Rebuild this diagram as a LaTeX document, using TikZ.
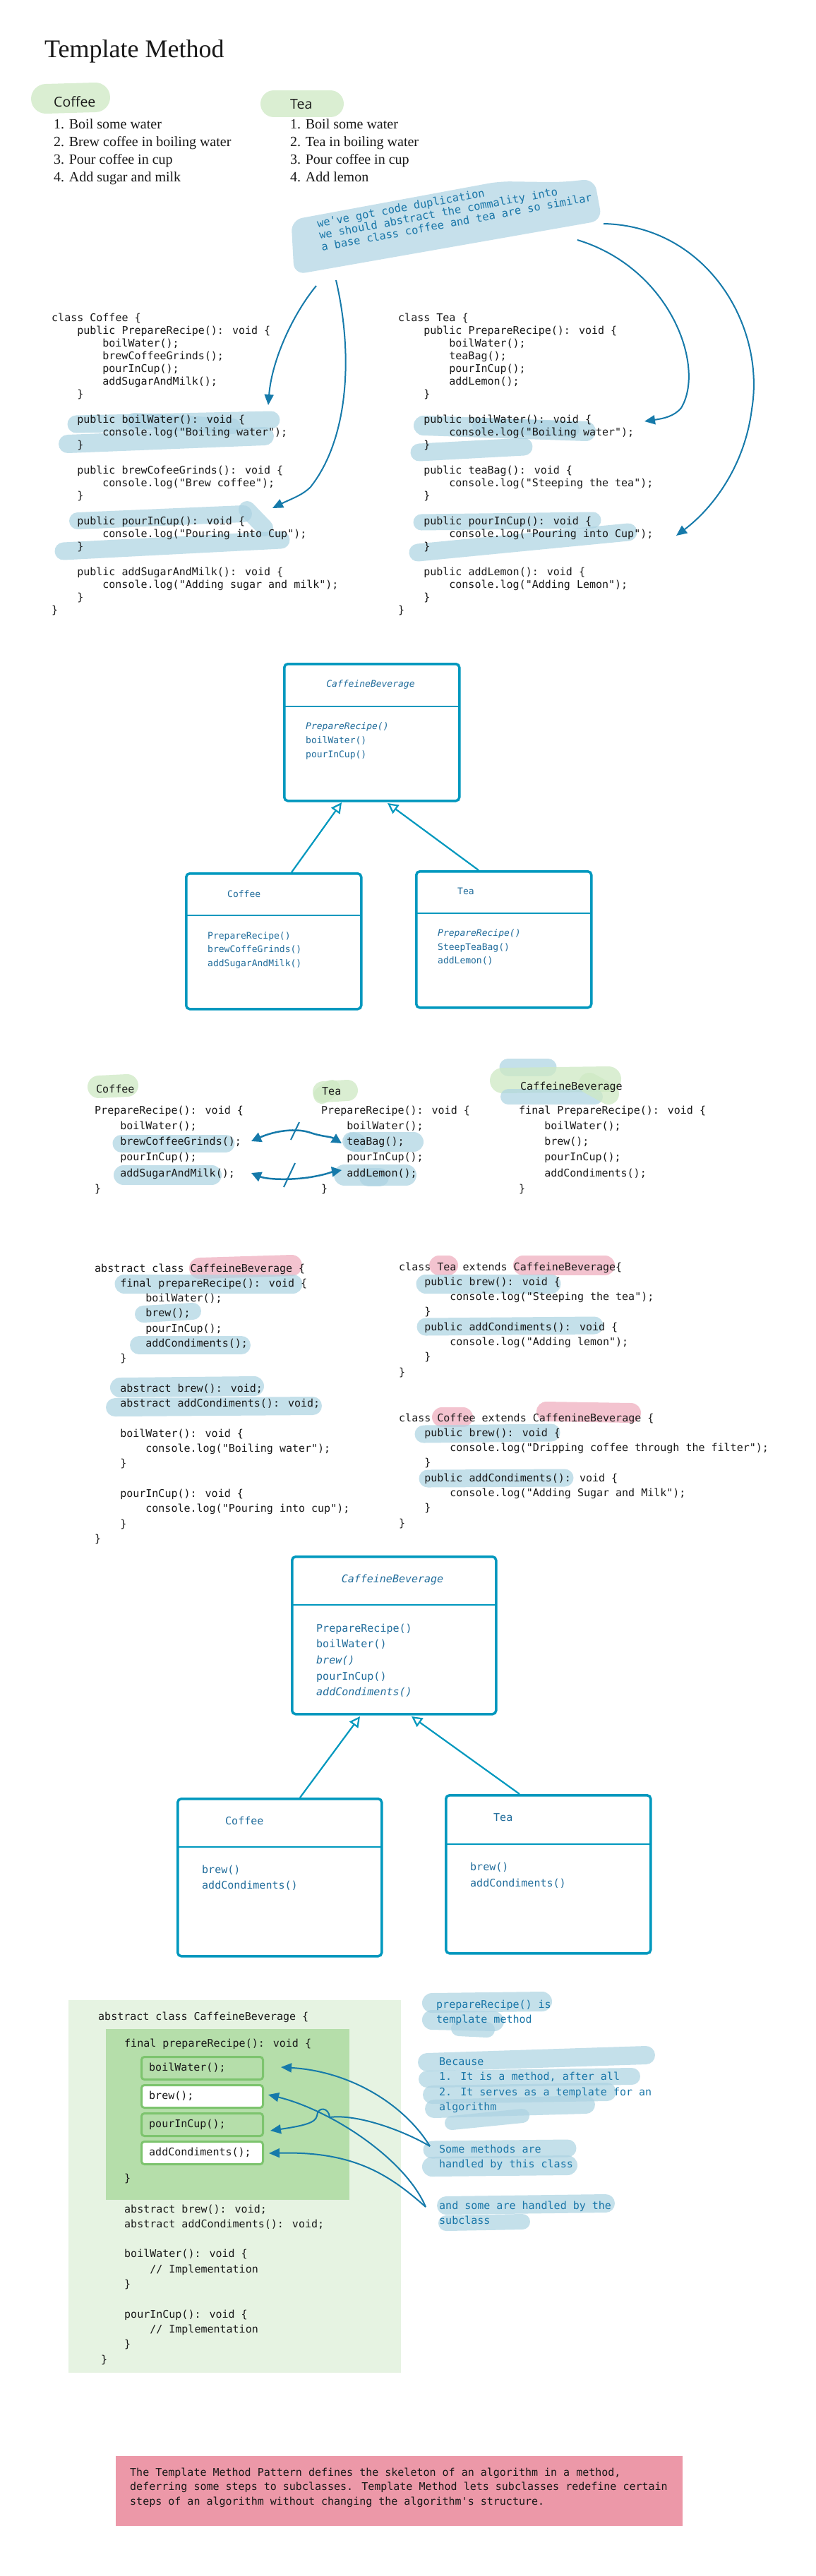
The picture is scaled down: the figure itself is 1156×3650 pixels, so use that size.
\documentclass[tikz,border=0pt]{standalone}
\usepackage{fontspec}
\setmainfont{Liberation Serif}
\newfontfamily\codefont{DejaVu Sans Mono}
\newfontfamily\osfont{Open Sans}
\usetikzlibrary{arrows.meta}
\definecolor{hlblue}{RGB}{172,211,226}
\definecolor{blobblue}{RGB}{198,224,235}
\definecolor{hlpink}{RGB}{240,176,192}
\definecolor{hlgreen}{RGB}{206,233,196}
\definecolor{notetext}{RGB}{25,118,168}
\definecolor{arrowblue}{RGB}{22,122,170}
\definecolor{umlblue}{RGB}{0,152,190}
\definecolor{umltext}{RGB}{32,108,155}
\definecolor{outergreen}{RGB}{230,243,226}
\definecolor{innergreen}{RGB}{181,222,170}
\definecolor{boxgreen}{RGB}{125,196,110}
\definecolor{footpink}{RGB}{236,152,168}
\definecolor{codeink}{RGB}{25,25,25}
\newcommand\indA{\hspace*{36.1pt}}
\newcommand\indB{\hspace*{72.2pt}}
\newcommand\codelines[6]{\foreach \myline [count=\myidx from 0] in {#6}{\node[#1] (#2-\myidx) at (#3,{#4+#5*\myidx}) {\myline};}}
\begin{document}
\begin{tikzpicture}[x=1pt,y=-1pt,
  code/.style={font=\codefont\fontsize{15}{18}\selectfont, text=codeink, inner sep=0pt, anchor=base west},
  ann/.style={font=\codefont\fontsize{15}{18}\selectfont, text=notetext, inner sep=0pt, anchor=base west},
  umlt/.style={font=\codefont\fontsize{13}{16}\selectfont, text=umltext, inner sep=0pt, anchor=base west},
  umltb/.style={font=\codefont\fontsize{15}{18}\selectfont, text=umltext, inner sep=0pt, anchor=base west},
  lst/.style={font=\fontsize{20}{25}\selectfont, text=codeink, inner sep=0pt, anchor=base west},
  umlbox/.style={draw=umlblue, line width=3.5pt, rounded corners=5pt, inner sep=0pt, anchor=north west},
  umldiv/.style={draw=umlblue, line width=1.8pt},
  inh/.style={draw=umlblue, line width=2.2pt, -{Triangle[open, length=15pt, width=15pt]}},
  arr/.style={draw=arrowblue, line width=2pt, -{Triangle[length=15pt,width=13pt]}},
  darr/.style={draw=arrowblue, line width=2.5pt, {Triangle[length=14pt,width=14pt]}-{Triangle[length=14pt,width=14pt]}},
  slash/.style={draw=arrowblue, line width=2pt},
  hlb/.style={draw=hlblue, draw opacity=0.7, line width=#1pt, line cap=round},
  hlp/.style={draw=hlpink, draw opacity=0.75, line width=#1pt, line cap=round},
  hlg/.style={draw=hlgreen, draw opacity=0.75, line width=#1pt, line cap=round},
  gbox/.style={draw=boxgreen, line width=3pt, rounded corners=4pt, minimum width=172pt, minimum height=32pt, anchor=north west, inner sep=0pt}
]
\useasboundingbox (0,0) rectangle (1156,3650);
\fill[white] (0,0) rectangle (1156,3650);

% ---------- title and lists ----------
\node[font=\fontsize{36}{40}\selectfont, anchor=base west, inner sep=0pt, text=codeink] (title) at (63,82) {Template Method};
\draw[hlg=42] (65,140) -- (135,138);
\draw[hlg=38] (388,147) -- (468,147);
\node[font=\osfont\fontsize{19.5}{22}\selectfont, anchor=base west, inner sep=0pt, text=codeink] (lblcoffee) at (76,152) {Coffee};
\node[font=\osfont\fontsize{19.5}{22}\selectfont, anchor=base west, inner sep=0pt, text=codeink] (lbltea) at (411,155) {Tea};
\codelines{lst}{cl}{76}{183}{25}{{1. Boil some water},{2. Brew coffee in boiling water},{3. Pour coffee in cup},{4. Add sugar and milk}}
\codelines{lst}{tl}{411}{183}{25}{{1. Boil some water},{2. Tea in boiling water},{3. Pour coffee in cup},{4. Add lemon}}

% ---------- note blob ----------
\begin{scope}[shift={(450,322)}, rotate=10.5]
  \fill[blobblue, rounded corners=16pt] (-35,-17) -- (265,-17) -- (350,0) -- (398,4) -- (398,64) -- (-45,60) -- cycle;
  \node[font=\codefont\fontsize{15.4}{17}\selectfont, text=notetext, inner sep=0pt, anchor=north west, align=left, transform shape] (note) at (0,-11.7) {we've got code duplication\\we should abstract the commality into\\a base class coffee and tea are so similar};
\end{scope}

% ---------- section 1 highlights ----------
\draw[hlb=25] (108,601) -- (384,595);
\draw[hlb=22] (190,596) -- (330,604);
\draw[hlb=26] (96,629) -- (375,618);
\draw[hlb=24] (110,738) -- (345,728);
\draw[hlb=24] (350,722) -- (375,748);
\draw[hlb=25] (90,781) -- (398,765);
\draw[hlb=28] (600,603) -- (830,611);
\draw[hlb=22] (680,603) -- (810,608);
\draw[hlb=25] (594,641) -- (742,633);
\draw[hlb=23] (597,740) -- (840,737);
\draw[hlb=25] (592,783) -- (890,754);

% ---------- section 1 code ----------
\codelines{code}{c1}{73}{455}{18}{{class Coffee \{},{\indA public PrepareRecipe(): void \{},{\indB boilWater();},{\indB brewCoffeeGrinds();},{\indB pourInCup();},{\indB addSugarAndMilk();},{\indA \}},{\relax},{\indA public boilWater(): void \{},{\indB console.log("Boiling water");},{\indA \}},{\relax},{\indA public brewCofeeGrinds(): void \{},{\indB console.log("Brew coffee");},{\indA \}},{\relax},{\indA public pourInCup(): void \{},{\indB console.log("Pouring into Cup");},{\indA \}},{\relax},{\indA public addSugarAndMilk(): void \{},{\indB console.log("Adding sugar and milk");},{\indA \}},{\}}}
\codelines{code}{t1}{564}{455}{18}{{class Tea \{},{\indA public PrepareRecipe(): void \{},{\indB boilWater();},{\indB teaBag();},{\indB pourInCup();},{\indB addLemon();},{\indA \}},{\relax},{\indA public boilWater(): void \{},{\indB console.log("Boiling water");},{\indA \}},{\relax},{\indA public teaBag(): void \{},{\indB console.log("Steeping the tea");},{\indA \}},{\relax},{\indA public pourInCup(): void \{},{\indB console.log("Pouring into Cup");},{\indA \}},{\relax},{\indA public addLemon(): void \{},{\indB console.log("Adding Lemon");},{\indA \}},{\}}}

% ---------- section 1 arrows ----------
\coordinate (nA) at (448,405); \coordinate (tA) at (380,574);
\coordinate (nB) at (476,397); \coordinate (tB) at (386,720);
\coordinate (nC) at (818,340); \coordinate (tC) at (913,597);
\coordinate (nD) at (855,317); \coordinate (tD) at (958,759);
\draw[arr] (nA) .. controls (415,445) and (385,510) .. (tA);
\draw[arr] (nB) .. controls (500,500) and (495,620) .. (440,690) .. controls (428,702) and (412,707) .. (tB);
\draw[arr] (nC) .. controls (950,380) and (1000,520) .. (965,578) .. controls (955,590) and (940,593) .. (tC);
\draw[arr] (nD) .. controls (1000,320) and (1085,460) .. (1065,580) .. controls (1055,660) and (1010,720) .. (tD);

% ---------- UML 1 ----------
\node[umlbox, minimum width=248pt, minimum height=194pt] (cb1) at (401,939) {};
\draw[umldiv] (401,1001) -- (649,1001);
\node[umlt, anchor=base, font=\codefont\itshape\fontsize{13}{16}\selectfont] (cb1t) at (525,973) {CaffeineBeverage};
\node[umlt] (cb1m1) at (433,1033) {\itshape PrepareRecipe()};
\node[umlt] (cb1m2) at (433,1053) {boilWater()};
\node[umlt] (cb1m3) at (433,1073) {pourInCup()};

\node[umlbox, minimum width=248pt, minimum height=192pt] (co1) at (262,1236) {};
\draw[umldiv] (262,1297) -- (510,1297);
\node[umlt] (co1t) at (322,1271) {Coffee};
\node[umlt] (co1m1) at (294,1330) {PrepareRecipe()};
\node[umlt] (co1m2) at (294,1349) {brewCoffeGrinds()};
\node[umlt] (co1m3) at (294,1369) {addSugarAndMilk()};

\node[umlbox, minimum width=248pt, minimum height=193pt] (te1) at (588,1233) {};
\draw[umldiv] (588,1294) -- (836,1294);
\node[umlt] (te1t) at (648,1267) {Tea};
\node[umlt] (te1m1) at (620,1326) {\itshape PrepareRecipe()};
\node[umlt] (te1m2) at (620,1346) {SteepTeaBag()};
\node[umlt] (te1m3) at (620,1365) {addLemon()};

\coordinate (u1a) at (413,1236); \coordinate (u1b) at (484,1137);
\coordinate (u1c) at (678,1233); \coordinate (u1d) at (549,1138);
\draw[inh] (u1a) -- (u1b);
\draw[inh] (u1c) -- (u1d);

% ---------- section 3 ----------
\draw[hlg=32] (140,1540) -- (180,1538);
\draw[hlg=30] (458,1547) -- (492,1545);
\draw[hlg=24] (456,1552) -- (470,1542);
\draw[hlb=25] (720,1512) -- (776,1512);
\draw[hlg=36] (712,1531) -- (862,1529);
\draw[hlb=22] (720,1554) -- (843,1554);
\draw[hlg=30] (835,1535) -- (862,1550);
\draw[hlb=25] (172,1620) -- (320,1620);
\draw[hlb=28] (175,1665) -- (300,1665);
\draw[hlb=28] (502,1618) -- (586,1618);
\draw[hlb=26] (498,1617) -- (506,1619);
\draw[hlb=30] (488,1665) -- (575,1665);
\draw[hlb=26] (522,1668) -- (538,1668);
\node[code] (s3coffee) at (136,1548) {Coffee};
\node[code] (s3tea) at (456,1551) {Tea};
\node[code] (s3cb) at (737,1544) {CaffeineBeverage};
\codelines{code}{s3c}{134}{1578}{22.3}{{PrepareRecipe(): void \{},{\indA boilWater();},{\indA brewCoffeeGrinds();},{\indA pourInCup();},{\indA addSugarAndMilk();},{\}}}
\codelines{code}{s3t}{455}{1578}{22.3}{{PrepareRecipe(): void \{},{\indA boilWater();},{\indA teaBag();},{\indA pourInCup();},{\indA addLemon();},{\}}}
\codelines{code}{s3b}{735}{1578}{22.3}{{final PrepareRecipe(): void \{},{\indA boilWater();},{\indA brew();},{\indA pourInCup();},{\indA addCondiments();},{\}}}
\coordinate (dA1) at (356,1617); \coordinate (dA2) at (484,1620);
\coordinate (dB1) at (356,1662); \coordinate (dB2) at (484,1658);
\draw[darr] (dA1) .. controls (390,1602) and (420,1598) .. (440,1605) .. controls (458,1611) and (468,1610) .. (dA2);
\draw[darr] (dB1) .. controls (380,1672) and (420,1672) .. (445,1667) .. controls (462,1664) and (472,1660) .. (dB2);
\coordinate (sA1) at (424,1590); \coordinate (sA2) at (412,1615);
\coordinate (sB1) at (418,1648); \coordinate (sB2) at (402,1682);
\draw[slash] (sA1) -- (sA2);
\draw[slash] (sB1) -- (sB2);

% ---------- section 4 ----------
\draw[hlp=30] (283,1797) -- (413,1793);
\draw[hlb=27] (176,1819) -- (415,1819);
\draw[hlb=24] (203,1862) -- (273,1858);
\draw[hlb=26] (197,1906) -- (342,1906);
\draw[hlb=28] (170,1966) -- (360,1964);
\draw[hlb=26] (163,1994) -- (443,1992);
\draw[hlp=28] (622,1793) -- (635,1793);
\draw[hlp=28] (741,1793) -- (857,1793);
\draw[hlb=27] (603,1819) -- (781,1819);
\draw[hlb=25] (603,1880) -- (842,1878);
\draw[hlp=28] (626,2008) -- (656,2008);
\draw[hlp=28] (774,2000) -- (894,2002);
\draw[hlb=25] (600,2032) -- (781,2030);
\draw[hlb=25] (606,2095) -- (800,2094);
\codelines{code}{s4a}{134}{1802}{21.3}{{abstract class CaffeineBeverage \{},{\indA final prepareRecipe(): void \{},{\indB boilWater();},{\indB brew();},{\indB pourInCup();},{\indB addCondiments();},{\indA \}},{\relax},{\indA abstract brew(): void;},{\indA abstract addCondiments(): void;},{\relax},{\indA boilWater(): void \{},{\indB console.log("Boiling water");},{\indA \}},{\relax},{\indA pourInCup(): void \{},{\indB console.log("Pouring into cup");},{\indA \}},{\}}}
\codelines{code}{s4t}{565}{1800}{21.3}{{class Tea extends CaffeineBeverage\{},{\indA public brew(): void \{},{\indB console.log("Steeping the tea");},{\indA \}},{\indA public addCondiments(): void \{},{\indB console.log("Adding lemon");},{\indA \}},{\}}}
\codelines{code}{s4c}{565}{2014}{21.3}{{class Coffee extends CaffenineBeverage \{},{\indA public brew(): void \{},{\indB console.log("Dripping coffee through the filter");},{\indA \}},{\indA public addCondiments(): void \{},{\indB console.log("Adding Sugar and Milk");},{\indA \}},{\}}}

% ---------- UML 2 ----------
\node[umlbox, minimum width=289pt, minimum height=223pt] (cb2) at (412,2204) {};
\draw[umldiv] (412,2274) -- (701,2274);
\node[umltb, anchor=base, font=\codefont\itshape\fontsize{15}{18}\selectfont] (cb2t) at (556,2242) {CaffeineBeverage};
\node[umltb] (cb2m1) at (448,2312) {PrepareRecipe()};
\node[umltb] (cb2m2) at (448,2334) {boilWater()};
\node[umltb] (cb2m3) at (448,2357) {\itshape brew()};
\node[umltb] (cb2m4) at (448,2380) {pourInCup()};
\node[umltb] (cb2m5) at (448,2402) {\itshape addCondiments()};

\node[umlbox, minimum width=289pt, minimum height=223pt] (co2) at (250,2547) {};
\draw[umldiv] (250,2617) -- (539,2617);
\node[umltb] (co2t) at (319,2585) {Coffee};
\node[umltb] (co2m1) at (286,2654) {brew()};
\node[umltb] (co2m2) at (286,2676) {addCondiments()};

\node[umlbox, minimum width=290pt, minimum height=224pt] (te2) at (630,2542) {};
\draw[umldiv] (630,2613) -- (920,2613);
\node[umltb] (te2t) at (699,2580) {Tea};
\node[umltb] (te2m1) at (666,2650) {brew()};
\node[umltb] (te2m2) at (666,2673) {addCondiments()};

\coordinate (u2a) at (425,2547); \coordinate (u2b) at (510,2432);
\coordinate (u2c) at (736,2542); \coordinate (u2d) at (583,2432);
\draw[inh] (u2a) -- (u2b);
\draw[inh] (u2c) -- (u2d);

% ---------- section 6 ----------
\node[fill=outergreen, anchor=north west, minimum width=471pt, minimum height=528pt, inner sep=0pt] (outer) at (97,2834) {};
\node[fill=innergreen, anchor=north west, minimum width=345pt, minimum height=242pt, inner sep=0pt] (inner) at (150,2875) {};
\node[gbox, fill=innergreen] (bw) at (199,2913) {};
\node[gbox, fill=white] (br) at (199,2953) {};
\node[gbox, fill=innergreen] (bp) at (199,2993) {};
\node[gbox, fill=white] (ba) at (199,3033) {};
\node[code] (bwt) at (211,2934) {boilWater();};
\node[code] (brt) at (211,2974) {brew();};
\node[code] (bpt) at (211,3014) {pourInCup();};
\node[code] (bat) at (211,3054) {addCondiments();};
\node[code] (s6h) at (139,2862) {abstract class CaffeineBeverage \{};
\node[code] (s6f) at (176,2900) {final prepareRecipe(): void \{};
\node[code] (s6e) at (176,3091) {\}};
\codelines{code}{s6}{176}{3135}{21.3}{{abstract brew(): void;},{abstract addCondiments(): void;},{\relax},{boilWater(): void \{},{\indA // Implementation},{\}},{\relax},{pourInCup(): void \{},{\indA // Implementation},{\}}}
\node[code] (s6z) at (143,3348) {\}};

\draw[hlb=28] (612,2838) -- (768,2836);
\draw[hlb=28] (612,2862) -- (700,2864);
\draw[hlb=22] (650,2874) -- (690,2876);
\draw[hlb=26] (605,2922) -- (915,2912);
\draw[hlb=24] (605,2946) -- (895,2942);
\draw[hlb=26] (612,2968) -- (860,2964);
\draw[hlb=26] (615,2988) -- (830,2982);
\draw[hlb=20] (640,3008) -- (740,2998);
\draw[hlb=25] (612,3046) -- (804,3044);
\draw[hlb=28] (612,3070) -- (804,3068);
\draw[hlb=26] (632,3125) -- (858,3122);
\draw[hlb=22] (632,3150) -- (740,3148);
\codelines{ann}{an1}{618}{2845}{21}{{prepareRecipe() is},{template method}}
\codelines{ann}{an2}{622}{2926}{21.5}{{Because},{1. It is a method, after all},{2. It serves as a template for an},{algorithm}}
\codelines{ann}{an3}{622}{3050}{21}{{Some methods are},{handled by this class}}
\codelines{ann}{an4}{622}{3130}{21}{{and some are handled by the},{subclass}}

\coordinate (sm) at (609,3041); \coordinate (as) at (603,3127);
\coordinate (tbw) at (398,2929); \coordinate (tbr) at (380,2968);
\coordinate (tbp) at (383,3019); \coordinate (tba) at (381,3051);
\draw[arr] (sm) .. controls (575,2985) and (500,2935) .. (tbw);
\draw[arr] (as) .. controls (575,3060) and (470,2990) .. (tbr);
\draw[arr] (sm) .. controls (570,3018) and (505,2995) .. (467,3000) .. controls (466,2986) and (450,2984) .. (449,2998) .. controls (447,3008) and (430,3012) .. (tbp);
\draw[arr] (as) .. controls (550,3080) and (500,3048) .. (tba);

% ---------- footer ----------
\node[fill=footpink, anchor=north west, minimum width=803pt, minimum height=99pt, inner sep=0pt] (foot) at (164,3480) {};
\codelines{code}{ft}{184}{3508}{20.5}{{The Template Method Pattern defines the skeleton of an algorithm in a method,},{deferring some steps to subclasses. Template Method lets subclasses redefine certain},{steps of an algorithm without changing the algorithm's structure.}}
\end{tikzpicture}
\end{document}
